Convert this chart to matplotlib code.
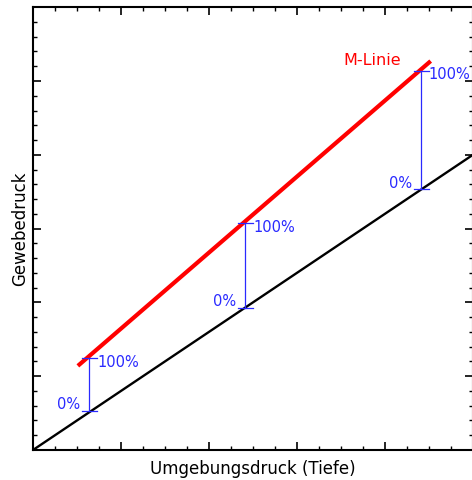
import numpy as np
import matplotlib.pyplot as plt
from matplotlib.ticker import MultipleLocator

# Umgebungsdruck (x) gegen Gewebedruck (y)
umgebung_linie = [0.0, 5.0]
gewebe_linie = [0.0, 4.0]

m_linie_x = [0.51, 4.52]
m_linie_y = [1.14, 5.27]

# Gradientenfaktor-Markierungen: 0% auf schwarzer Linie, 100% auf M-Linie
marker_x = [0.64, 2.41, 4.41]
marker_unten = [0.53, 1.93, 3.53]
marker_oben = [1.24, 3.07, 5.14]

blau = '#2a2aff'

fig = plt.figure(figsize=(4.72, 4.80), dpi=100)
ax = fig.add_axes([0.0699, 0.0625, 0.932, 0.9225])

ax.plot(umgebung_linie, gewebe_linie, color='black', lw=1.7)
ax.plot(m_linie_x, m_linie_y, color='#ff0000', lw=3.0, solid_capstyle='butt')

for x, lo, hi in zip(marker_x, marker_unten, marker_oben):
    ax.plot([x, x], [lo, hi], color=blau, lw=0.9)
    ax.plot([x - 0.08, x + 0.09], [hi, hi], color=blau, lw=0.9)
    ax.plot([x - 0.08, x + 0.09], [lo, lo], color=blau, lw=0.9)
    ax.text(x + 0.09, hi - 0.05, '100%', color=blau, fontsize=10.5,
            ha='left', va='center')
    ax.text(x - 0.1, lo + 0.08, '0%', color=blau, fontsize=10.5,
            ha='right', va='center')

ax.text(3.85, 5.28, 'M-Linie', color='#ff0000', fontsize=11.5,
        ha='center', va='center')

ax.set_xlim(0, 5)
ax.set_ylim(0, 6)
ax.xaxis.set_major_locator(MultipleLocator(1))
ax.xaxis.set_minor_locator(MultipleLocator(0.25))
ax.yaxis.set_major_locator(MultipleLocator(1))
ax.yaxis.set_minor_locator(MultipleLocator(0.2))
ax.tick_params(which='both', direction='in', top=True, right=True,
               labelbottom=False, labelleft=False)
ax.tick_params(which='major', length=6, width=1.2)
ax.tick_params(which='minor', length=3, width=1.0)
for s in ax.spines.values():
    s.set_linewidth(1.5)

ax.set_xlabel('Umgebungsdruck (Tiefe)', fontsize=12, labelpad=7)
ax.set_ylabel('Gewebedruck', fontsize=12, labelpad=3)

plt.savefig('out.png', dpi=100)
